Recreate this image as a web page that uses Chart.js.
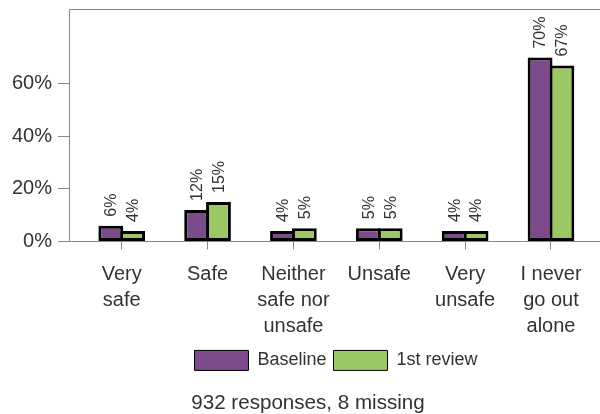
<!DOCTYPE html>
<html><head><meta charset="utf-8">
<script src="https://cdn.jsdelivr.net/npm/chart.js@4/dist/chart.umd.min.js"></script>
<style>html,body{margin:0;padding:0;background:#fff;overflow:hidden}</style>
</head><body>
<canvas id="c" width="600" height="414" style="display:block;width:600px;height:414px"></canvas>
<script>
// ---- data ----
const categories = [["Very","safe"],["Safe"],["Neither","safe nor","unsafe"],["Unsafe"],["Very","unsafe"],["I never","go out","alone"]];
const seriesNames = ["Baseline","1st review"];
const baseline = [6,12,4,5,4,70];
const firstReview = [4,15,5,5,4,67];
const yTicks = [0,20,40,60];
const footnote = "932 responses, 8 missing";

const FONT = "'Liberation Sans', Arial, sans-serif";
const TXT = '#333';
const AXIS = '#888';
const toPoints = arr => arr.map((v,i)=>({x:i,y:v}));

const barLabels = {
  id:'barLabels',
  afterDatasetsDraw(chart){
    const ctx = chart.ctx;
    chart.data.datasets.forEach((ds,di)=>{
      const meta = chart.getDatasetMeta(di);
      meta.data.forEach((bar,i)=>{
        const v = ds.data[i].y;
        ctx.save();
        ctx.translate(bar.x + 1, bar.y - 9);
        ctx.rotate(-Math.PI/2);
        ctx.font = '16px ' + FONT;
        ctx.fillStyle = TXT;
        ctx.textAlign = 'left';
        ctx.textBaseline = 'middle';
        ctx.fillText(v + '%', 0, 0);
        ctx.restore();
      });
    });
  }
};

const placeBoxes = {
  id:'placeBoxes',
  afterLayout(chart){
    const lg = chart.legend;
    if (lg) { const w = lg.right - lg.left; lg.left = 336 - w/2; lg.right = lg.left + w; }
    const tt = chart.titleBlock;
    if (tt) { const w = tt.right - tt.left; tt.left = 308 - w/2; tt.right = tt.left + w; }
  }
};

const noPad = s => { s.paddingTop = 0; s.paddingBottom = 0; s.paddingLeft = 0; s.paddingRight = 0; };

new Chart(document.getElementById('c'), {
  type:'bar',
  data:{datasets:[
    {label:seriesNames[0], data:toPoints(baseline), backgroundColor:'#7d4b8b', borderColor:'#000', borderWidth:3, borderSkipped:false},
    {label:seriesNames[1], data:toPoints(firstReview), backgroundColor:'#9bc862', borderColor:'#000', borderWidth:3, borderSkipped:false}
  ]},
  options:{
    responsive:false, animation:false,
    categoryPercentage:0.508, barPercentage:1.14,
    layout:{padding:{top:9,left:0,right:0,bottom:0}},
    scales:{
      x:{type:'linear', min:-0.614, max:5.571, offset:false,
        afterBuildTicks:s=>{ s.ticks = categories.map((c,i)=>({value:i})); },
        ticks:{callback:v=>categories[v], font:{family:FONT,size:20,lineHeight:1.3}, color:TXT, padding:12, autoSkip:false, maxRotation:0, minRotation:0},
        grid:{drawOnChartArea:false, offset:false, tickLength:8, color:AXIS, tickColor:AXIS},
        border:{color:AXIS, width:1},
        afterFit:s=>{ s.height = 102; noPad(s); }
      },
      x2:{type:'linear', position:'top', display:true, offset:false, ticks:{display:false}, grid:{display:false}, border:{display:true,color:AXIS,width:1},
        afterFit:s=>{ s.height = 0; noPad(s); }
      },
      y:{min:0, max:88.5,
        afterBuildTicks:s=>{ s.ticks = yTicks.map(v=>({value:v})); },
        ticks:{callback:v=>v+'%', font:{family:FONT,size:20}, color:TXT, padding:6},
        grid:{drawOnChartArea:false, tickLength:11, color:AXIS, tickColor:AXIS},
        border:{color:AXIS, width:1},
        afterFit:s=>{ s.width = 69; noPad(s); }
      }
    },
    plugins:{
      tooltip:{enabled:false},
      legend:{position:'bottom',
        labels:{font:{family:FONT,size:18}, color:TXT, boxWidth:54, boxHeight:20, padding:7,
          generateLabels(chart){
            return Chart.defaults.plugins.legend.labels.generateLabels(chart).map(it=>Object.assign(it,{lineWidth:1,strokeStyle:'#000'}));
          }
        }
      },
      title:{display:true, position:'bottom', text:footnote, color:TXT,
        font:{family:FONT,size:20.6,weight:'normal',lineHeight:1}, padding:{top:13,bottom:0}}
    }
  },
  plugins:[barLabels, placeBoxes]
});
</script>
</body></html>
